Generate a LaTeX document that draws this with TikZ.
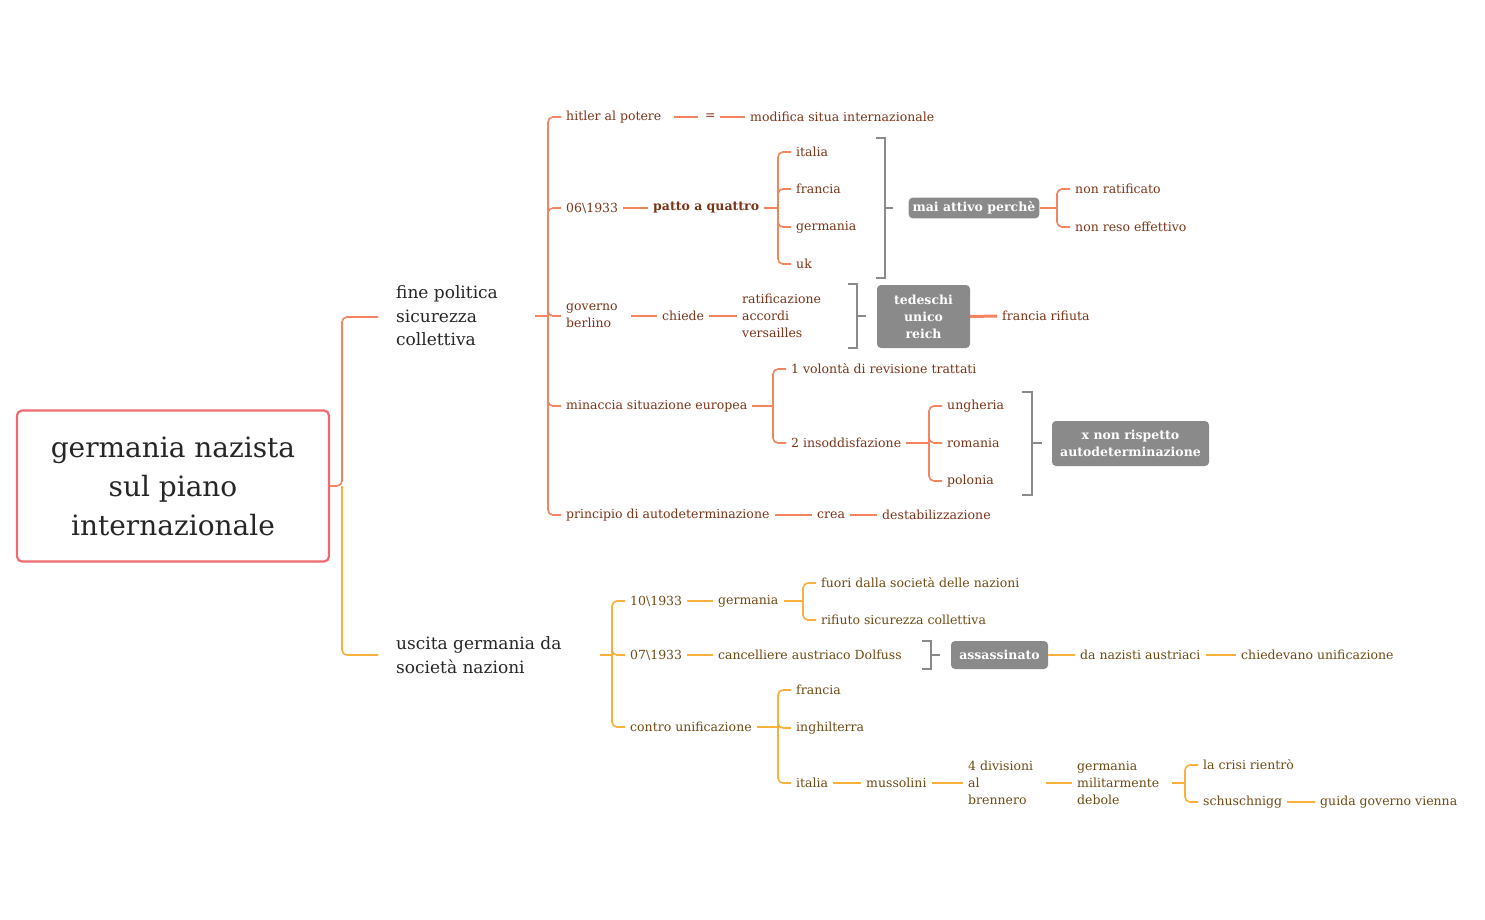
\documentclass[tikz,border=0pt]{standalone}
\usepackage{fontspec}
\setmainfont{DejaVu Serif}
\begin{document}
\begin{tikzpicture}[x=1pt,y=-1pt,
  t/.style={anchor=west,inner xsep=5pt,inner ysep=0pt,text=txtA,font=\fontsize{12.5}{17}\selectfont,align=left},
  tb/.style={t,text=txtB},
  box/.style={fill=boxg,rounded corners=4pt,text=white,font=\fontsize{12.5}{17}\selectfont\bfseries,align=center,inner sep=4pt},
  la/.style={draw=lnA,line width=1.6pt,rounded corners=5pt},
  lb/.style={draw=lnB,line width=1.6pt,rounded corners=5pt},
  gb/.style={draw=boxg,line width=1.3pt},
  mt/.style={anchor=west,inner sep=0pt,text=black!85,font=\fontsize{17}{23.5}\selectfont,align=left}]
\definecolor{lnA}{HTML}{F4845F}\definecolor{lnB}{HTML}{FBB03B}
\definecolor{txtA}{HTML}{7A3418}\definecolor{txtB}{HTML}{6E4A14}
\definecolor{boxg}{HTML}{8A8A8A}\definecolor{rootc}{HTML}{EE6A70}
\useasboundingbox (0,0) rectangle (1485,919);
% root
\node[draw=rootc,line width=2.2pt,rounded corners=5pt,minimum width=312pt,minimum height=151pt,align=center,font=\fontsize{28}{39}\selectfont,text=black!85] (root) at (173,486) {germania nazista\\sul piano\\internazionale};
\coordinate (r) at (342,486);
\node[mt] (fp) at (396,316) {fine politica\\sicurezza\\collettiva};
\node[mt] (us) at (396,655) {uscita germania da\\società nazioni};
\draw[la] (root.east) -- (r) |- (378,317);
\draw[lb] (r) |- (378,655);
% upper
\coordinate (b1) at (548,316);
\draw[la] (535,316) -- (b1);
\node[t] (h) at (561,117) {hitler al potere};
\node[t] (d6) at (561,208) {06\textbackslash1933};
\node[t] (gv) at (561,316) {governo\\berlino};
\node[t] (mi) at (561,406) {minaccia situazione europea};
\node[t] (pr) at (561,515) {principio di autodeterminazione};
\foreach \c in {h,d6,gv,mi,pr} \draw[la] (b1) |- (\c.west);
\node[t,inner xsep=0pt] (eq) at (705,117) {=};
\node[t] (mo) at (745,117) {modifica situa internazionale};
\draw[la] (674,117) -- (698,117); \draw[la] (720,117) -- (mo.west);
\node[t,font=\fontsize{12.5}{17}\selectfont\bfseries] (pq) at (648,208) {patto a quattro};
\draw[la] (d6.east) -- (pq.west);
\coordinate (b2) at (778,208);
\draw[la] (pq.east) -- (b2);
\node[t] (it) at (791,152) {italia};
\node[t] (fr) at (791,189) {francia};
\node[t] (ge) at (791,227) {germania};
\node[t] (uk) at (791,264) {uk};
\foreach \c in {it,fr,ge,uk} \draw[la] (b2) |- (\c.west);
\draw[gb] (876,138) -- (885,138) -- (885,278) -- (876,278);
\node[box] (ma) at (974,208) {mai attivo perchè};
\draw[gb] (885,208) -- (893,208);
\coordinate (b3) at (1057,208);
\draw[la] (ma.east) -- (b3);
\node[t] (nr) at (1070,189) {non ratificato};
\node[t] (ne) at (1070,227) {non reso effettivo};
\foreach \c in {nr,ne} \draw[la] (b3) |- (\c.west);
\node[t] (ch) at (657,316) {chiede};
\draw[la] (631,316) -- (ch.west);
\node[t] (ra) at (737,316) {ratificazione\\accordi\\versailles};
\draw[la] (ch.east) -- (ra.west);
\draw[gb] (848,284) -- (857,284) -- (857,348) -- (848,348);
\draw[gb] (857,316) -- (866,316);
\node[box,minimum width=93pt,minimum height=63pt] (te) at (923.5,316.5) {tedeschi\\unico\\reich};
\node[t] (fri) at (997,316) {francia rifiuta};
\draw[la,line width=3pt] (te.east) -- (fri.west);
\coordinate (b4) at (773,406);
\draw[la] (mi.east) -- (b4);
\node[t] (v1) at (786,369) {1 volontà di revisione trattati};
\node[t] (v2) at (786,443) {2 insoddisfazione};
\foreach \c in {v1,v2} \draw[la] (b4) |- (\c.west);
\coordinate (b5) at (929,443);
\draw[la] (v2.east) -- (b5);
\node[t] (un) at (942,406) {ungheria};
\node[t] (ro) at (942,443) {romania};
\node[t] (po) at (942,481) {polonia};
\foreach \c in {un,ro,po} \draw[la] (b5) |- (\c.west);
\draw[gb] (1022,392) -- (1032,392) -- (1032,495) -- (1022,495);
\draw[gb] (1032,443) -- (1042,443);
\node[box,minimum width=157pt,minimum height=45pt] (xn) at (1130.5,443.5) {x non rispetto\\autodeterminazione};
\node[t] (cr) at (812,515) {crea};
\node[t] (de) at (877,515) {destabilizzazione};
\draw[la] (pr.east) -- (cr.west); \draw[la] (cr.east) -- (de.west);
% lower
\coordinate (c1) at (612,655);
\draw[lb] (600,655) -- (c1);
\node[tb] (d10) at (625,601) {10\textbackslash1933};
\node[tb] (d07) at (625,655) {07\textbackslash1933};
\node[tb] (cu) at (625,727) {contro unificazione};
\foreach \c in {d10,d07,cu} \draw[lb] (c1) |- (\c.west);
\node[tb] (gm) at (713,601) {germania};
\draw[lb] (d10.east) -- (gm.west);
\coordinate (c2) at (803,601);
\draw[lb] (gm.east) -- (c2);
\node[tb] (fu) at (816,583) {fuori dalla società delle nazioni};
\node[tb] (rs) at (816,620) {rifiuto sicurezza collettiva};
\foreach \c in {fu,rs} \draw[lb] (c2) |- (\c.west);
\node[tb] (ca) at (713,655) {cancelliere austriaco Dolfuss};
\draw[lb] (d07.east) -- (ca.west);
\draw[gb] (922,641) -- (931,641) -- (931,669) -- (922,669);
\draw[gb] (931,655) -- (940,655);
\node[box,minimum width=97pt,minimum height=28pt] (as) at (999.5,655) {assassinato};
\node[tb] (dn) at (1075,655) {da nazisti austriaci};
\node[tb] (cv) at (1236,655) {chiedevano unificazione};
\draw[lb] (as.east) -- (dn.west); \draw[lb] (dn.east) -- (cv.west);
\coordinate (c3) at (778,727);
\draw[lb] (cu.east) -- (c3);
\node[tb] (lf) at (791,690) {francia};
\node[tb] (li) at (791,728) {inghilterra};
\node[tb] (lit) at (791,783) {italia};
\foreach \c in {lf,li,lit} \draw[lb] (c3) |- (\c.west);
\node[tb] (mu) at (861,783) {mussolini};
\node[tb] (qd) at (963,783) {4 divisioni\\al\\brennero};
\node[tb] (gd) at (1072,783) {germania\\militarmente\\debole};
\draw[lb] (lit.east) -- (mu.west); \draw[lb] (mu.east) -- (qd.west); \draw[lb] (1046,783) -- (gd.west);
\coordinate (c4) at (1185,783);
\draw[lb] (1172,783) -- (c4);
\node[tb] (lc) at (1198,765) {la crisi rientrò};
\node[tb] (sc) at (1198,802) {schuschnigg};
\foreach \c in {lc,sc} \draw[lb] (c4) |- (\c.west);
\node[tb] (gg) at (1315,802) {guida governo vienna};
\draw[lb] (sc.east) -- (gg.west);
\end{tikzpicture}
\end{document}
